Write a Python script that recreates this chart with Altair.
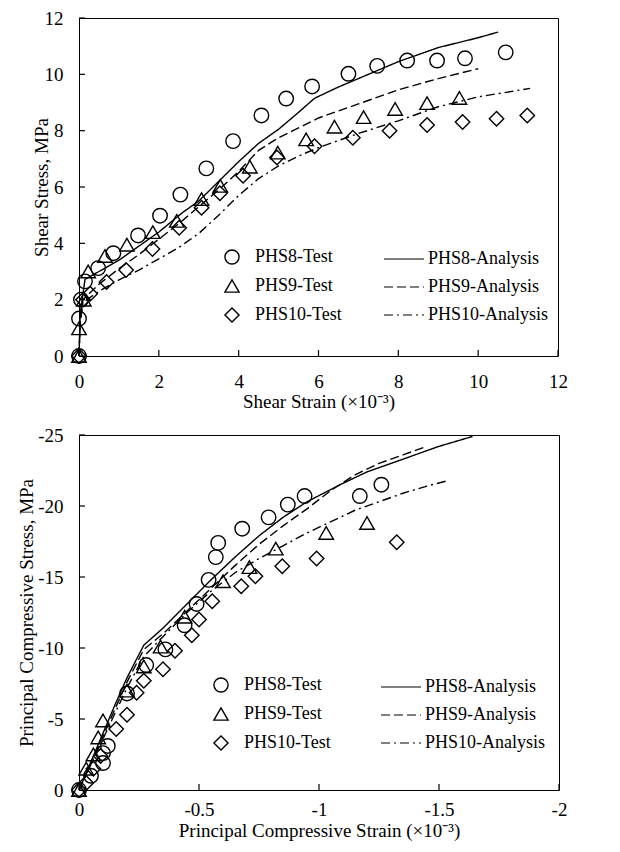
import altair as alt
import pandas as pd

FONT = "Liberation Serif"

test_names = ["PHS8-Test", "PHS9-Test", "PHS10-Test"]
analysis_names = ["PHS8-Analysis", "PHS9-Analysis", "PHS10-Analysis"]

# ---------------- top panel : shear stress vs shear strain ----------------
top_x_ticks = [0, 2, 4, 6, 8, 10, 12]
top_y_ticks = [0, 2, 4, 6, 8, 10, 12]

t_phs8_x = [0, 0.0, 0.05, 0.15, 0.48, 0.86, 1.48, 2.03, 2.54, 3.19, 3.86, 4.57, 5.19, 5.84, 6.75, 7.47, 8.22, 8.97, 9.67, 10.69]
t_phs8_y = [0, 1.33, 2.0, 2.65, 3.12, 3.65, 4.28, 4.98, 5.73, 6.66, 7.63, 8.54, 9.14, 9.57, 10.02, 10.3, 10.49, 10.49, 10.57, 10.78]
t_phs9_x = [0, 0.0, 0.12, 0.23, 0.65, 1.2, 1.85, 2.45, 3.07, 3.54, 4.28, 4.98, 5.69, 6.4, 7.13, 7.92, 8.72, 9.53]
t_phs9_y = [0, 0.98, 2.0, 3.0, 3.55, 3.95, 4.4, 4.8, 5.57, 6.04, 6.72, 7.22, 7.69, 8.14, 8.48, 8.77, 8.98, 9.16]
t_phs10_x = [0, 0.1, 0.28, 0.69, 1.18, 1.84, 2.51, 3.07, 3.53, 4.11, 4.96, 5.9, 6.86, 7.78, 8.72, 9.61, 10.46, 11.23]
t_phs10_y = [0, 2.0, 2.21, 2.63, 3.05, 3.8, 4.55, 5.26, 5.78, 6.4, 7.05, 7.45, 7.75, 8.0, 8.2, 8.31, 8.42, 8.54]

t_a8_x = [0, 0.03, 0.15, 0.5, 1.0, 1.5, 2.0, 2.6, 3.0, 3.5, 4.0, 4.5, 5.0, 5.5, 5.9, 6.5, 7.0, 8.0, 9.0, 10.0, 10.5]
t_a8_y = [0, 1.5, 2.72, 3.0, 3.4, 3.9, 4.4, 5.1, 5.5, 6.2, 6.9, 7.55, 8.05, 8.65, 9.15, 9.55, 9.85, 10.45, 10.95, 11.3, 11.5]
t_a9_x = [0, 0.03, 0.1, 0.5, 1.0, 1.5, 2.0, 2.5, 3.0, 3.5, 4.0, 4.5, 5.0, 5.5, 6.0, 6.5, 7.0, 8.0, 9.0, 10.0]
t_a9_y = [0, 1.2, 2.0, 2.55, 3.1, 3.6, 4.15, 4.7, 5.3, 5.9, 6.55, 7.3, 7.75, 8.1, 8.45, 8.7, 8.95, 9.45, 9.85, 10.2]
t_a10_x = [0, 0.03, 0.1, 0.5, 1.0, 1.5, 2.0, 2.5, 3.0, 3.5, 4.0, 4.5, 5.0, 5.5, 6.0, 7.0, 8.0, 9.0, 10.0, 11.3]
t_a10_y = [0, 1.2, 1.9, 2.3, 2.7, 3.05, 3.45, 3.85, 4.35, 5.0, 5.7, 6.3, 6.75, 7.1, 7.4, 7.9, 8.35, 8.85, 9.2, 9.5]

# ---------------- bottom panel : principal compressive ----------------
bot_x_ticks = [0, -0.5, -1, -1.5, -2]
bot_y_ticks = [0, -5, -10, -15, -20, -25]

b_phs8_x = [0, -0.05, -0.1, -0.1, -0.12, -0.2, -0.28, -0.36, -0.44, -0.49, -0.54, -0.57, -0.58, -0.68, -0.79, -0.87, -0.94, -1.17, -1.26]
b_phs8_y = [0, -1.0, -1.9, -2.6, -3.1, -6.8, -8.8, -9.9, -11.6, -13.1, -14.8, -16.4, -17.4, -18.4, -19.2, -20.1, -20.7, -20.7, -21.5]
b_phs9_x = [0, -0.03, -0.06, -0.08, -0.1, -0.2, -0.27, -0.34, -0.44, -0.6, -0.71, -0.82, -1.03, -1.2]
b_phs9_y = [0, -1.5, -2.5, -3.7, -4.9, -7.0, -8.7, -10.1, -12.2, -14.7, -15.7, -17.0, -18.1, -18.8]
b_phs10_x = [0, -0.03, -0.06, -0.09, -0.155, -0.2, -0.24, -0.27, -0.35, -0.4, -0.47, -0.5, -0.555, -0.676, -0.735, -0.847, -0.99, -1.324]
b_phs10_y = [0, -0.5, -1.5, -2.4, -4.3, -5.3, -6.85, -7.7, -8.5, -9.8, -10.9, -12.0, -13.3, -14.35, -15.06, -15.76, -16.3, -17.45]

b_a8_x = [0, -0.05, -0.1, -0.15, -0.2, -0.27, -0.35, -0.45, -0.55, -0.65, -0.75, -0.85, -0.95, -1.1, -1.2, -1.3, -1.4, -1.5, -1.64]
b_a8_y = [0, -2.0, -4.0, -6.0, -7.9, -10.2, -11.4, -13.1, -14.8, -16.4, -17.9, -19.2, -20.3, -21.6, -22.4, -23.0, -23.6, -24.2, -24.9]
b_a9_x = [0, -0.1, -0.2, -0.27, -0.35, -0.45, -0.55, -0.65, -0.75, -0.85, -0.95, -1.05, -1.15, -1.25, -1.35, -1.45]
b_a9_y = [0, -3.8, -7.6, -9.9, -11.0, -12.6, -14.2, -15.8, -17.3, -18.6, -19.8, -21.1, -22.2, -23.0, -23.6, -24.2]
b_a10_x = [0, -0.1, -0.2, -0.27, -0.35, -0.45, -0.55, -0.65, -0.75, -0.85, -0.95, -1.05, -1.15, -1.25, -1.35, -1.45, -1.54]
b_a10_y = [0, -3.6, -7.2, -9.4, -10.8, -12.5, -14.0, -15.3, -16.3, -17.2, -18.1, -18.9, -19.7, -20.3, -20.9, -21.4, -21.8]


def frame(xs, ys, name):
    return pd.DataFrame({"x": xs, "y": ys, "series": name, "order": list(range(len(xs)))})


def panel(tests, lines, xticks, yticks, xscale, yscale, xtitle, ytitle, W, H,
          xlabel_expr, ylabel_expr, x_label_pad, x_title_pad, y_title_pad, shape_pos, line_pos):
    x_axis = alt.Axis(values=xticks, title=xtitle, labelFlush=False, labelPadding=x_label_pad,
                      labelExpr=xlabel_expr, titlePadding=x_title_pad)
    y_axis = alt.Axis(values=yticks, title=ytitle, labelPadding=16,
                      labelExpr=ylabel_expr, titlePadding=y_title_pad)
    pts = alt.Chart(tests).mark_point(filled=False, color="black", strokeWidth=1.4,
                                      size=210, opacity=1).encode(
        x=alt.X("x:Q", scale=xscale, axis=x_axis),
        y=alt.Y("y:Q", scale=yscale, axis=y_axis),
        shape=alt.Shape("series:N",
                        scale=alt.Scale(domain=test_names, range=["circle", "triangle-up", "diamond"]),
                        legend=alt.Legend(orient="none", legendX=shape_pos[0], legendY=shape_pos[1],
                                          title=None, labelFont=FONT, labelFontSize=18,
                                          labelColor="black", symbolStrokeColor="black",
                                          symbolStrokeWidth=1.4, symbolSize=200, rowPadding=10,
                                          labelOffset=14, padding=0)),
    )
    lns = alt.Chart(lines).mark_line(color="black", strokeWidth=1.4).encode(
        x=alt.X("x:Q", scale=xscale, axis=x_axis),
        y=alt.Y("y:Q", scale=yscale, axis=y_axis),
        order="order:Q",
        strokeDash=alt.StrokeDash("series:N",
                                  scale=alt.Scale(domain=analysis_names,
                                                  range=[[1, 0], [9, 4], [9, 4, 2, 4]]),
                                  legend=alt.Legend(orient="none", legendX=line_pos[0], legendY=line_pos[1],
                                                    title=None, labelFont=FONT, labelFontSize=18,
                                                    labelColor="black", symbolType="M-3,0L1,0",
                                                    symbolSize=400, symbolStrokeColor="black",
                                                    symbolStrokeWidth=1.2, rowPadding=8,
                                                    labelOffset=3, padding=0)),
    )
    xt = alt.Chart(pd.DataFrame({"x": xticks})).mark_rule(color="black", strokeWidth=1.2).encode(
        x=alt.X("x:Q", scale=xscale, axis=x_axis), y=alt.value(H), y2=alt.value(H - 6))
    yt = alt.Chart(pd.DataFrame({"y": yticks})).mark_rule(color="black", strokeWidth=1.2).encode(
        y=alt.Y("y:Q", scale=yscale, axis=y_axis), x=alt.value(0), x2=alt.value(6))
    return alt.layer(lns, pts, xt, yt).properties(width=W, height=H)


top_tests = pd.concat([frame(t_phs8_x, t_phs8_y, test_names[0]),
                       frame(t_phs9_x, t_phs9_y, test_names[1]),
                       frame(t_phs10_x, t_phs10_y, test_names[2])])
top_lines = pd.concat([frame(t_a8_x, t_a8_y, analysis_names[0]),
                       frame(t_a9_x, t_a9_y, analysis_names[1]),
                       frame(t_a10_x, t_a10_y, analysis_names[2])])
bot_tests = pd.concat([frame(b_phs8_x, b_phs8_y, test_names[0]),
                       frame(b_phs9_x, b_phs9_y, test_names[1]),
                       frame(b_phs10_x, b_phs10_y, test_names[2])])
bot_lines = pd.concat([frame(b_a8_x, b_a8_y, analysis_names[0]),
                       frame(b_a9_x, b_a9_y, analysis_names[1]),
                       frame(b_a10_x, b_a10_y, analysis_names[2])])

neg_expr = "datum.value == 0 ? '0' : '-' + format(abs(datum.value), '')"
pos_expr = "format(datum.value, '')"

top = panel(top_tests, top_lines, top_x_ticks, top_y_ticks,
            alt.Scale(domain=[0, 12], nice=False, zero=False),
            alt.Scale(domain=[0, 12], nice=False, zero=False),
            "Shear Strain (×10⁻³)", "Shear Stress, MPa", 479, 338,
            pos_expr, pos_expr, 16, 1, -7, (144, 230), (324, 230))
bottom = panel(bot_tests, bot_lines, bot_x_ticks, bot_y_ticks,
               alt.Scale(domain=[-2, 0], nice=False, zero=False, reverse=True),
               alt.Scale(domain=[-25, 0], nice=False, zero=False, reverse=True),
               "Principal Compressive Strain (×10⁻³)", "Principal Compressive Stress, MPa", 480, 355,
               neg_expr, neg_expr, 10, 2, 1, (133, 241), (321, 241))

chart = alt.vconcat(top, bottom, spacing=13).resolve_scale(
    x="independent", y="independent", shape="independent", strokeDash="independent"
).resolve_legend(shape="independent", strokeDash="independent").properties(
    padding={"left": 9, "top": 0, "right": 5, "bottom": 0}
).configure_view(stroke="black", strokeWidth=1).configure_axis(
    labelFont=FONT, labelFontSize=19, labelColor="black", titleFont=FONT, titleFontSize=19,
    titleFontWeight="normal", titleColor="black", grid=False, domain=False, ticks=False
)

chart.save("out.html", embed_options={"renderer": "svg", "actions": False})
